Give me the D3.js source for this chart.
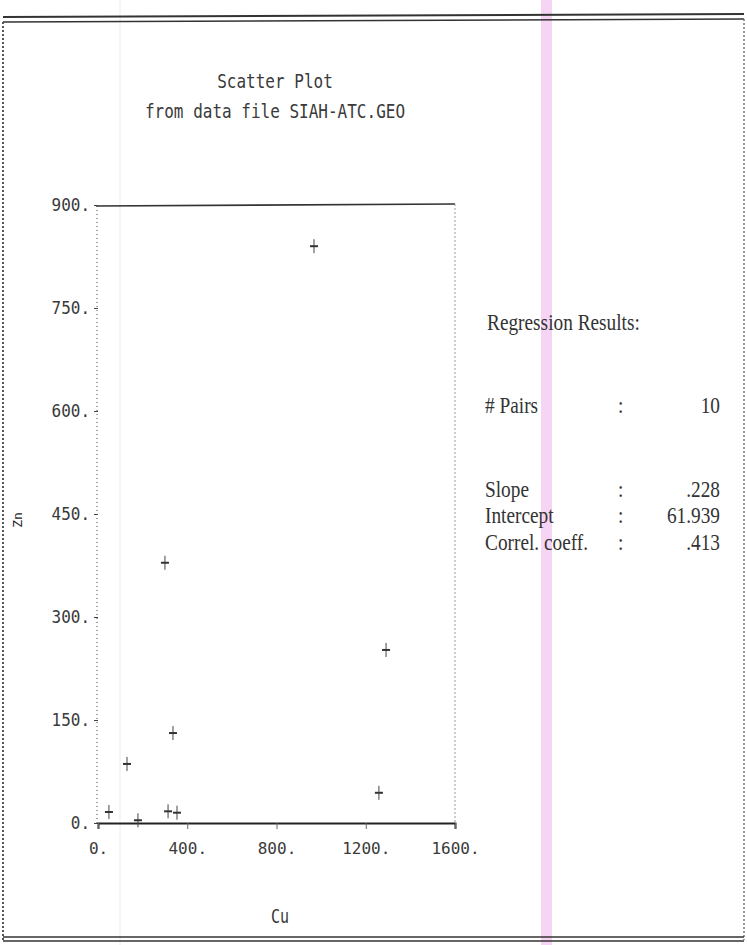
<!DOCTYPE html>
<html><head><meta charset="utf-8">
<script src="https://cdn.jsdelivr.net/npm/d3@7"></script>
<style>
html,body{margin:0;padding:0;background:#fff;}
svg{display:block;}
</style></head>
<body>
<script>
// ---- data ----
const cuValues   = [49, 130, 179, 314, 354, 336, 300, 968, 1259, 1291];
const yValues    = [16, 86, 4, 17, 15, 131, 379, 840, 44, 252];
const xTicks     = [0, 400, 800, 1200, 1600];
const yTicks     = [0, 150, 300, 450, 600, 750, 900];
const titleLines = ["Scatter Plot", "from data file SIAH-ATC.GEO"];
const xLabel = "Cu";
const yLabel = "Zn";
const regHeader = "Regression Results:";
const regNames  = ["# Pairs", "Slope", "Intercept", "Correl. coeff."];
const regValues = ["10", ".228", "61.939", ".413"];

const W = 747, H = 945;
const svg = d3.select("body").append("svg").attr("width", W).attr("height", H);
svg.append("rect").attr("width", W).attr("height", H).attr("fill", "#fff");

// scan artifacts
svg.append("rect").attr("x", 541).attr("y", 0).attr("width", 11).attr("height", H).attr("fill", "#f6d4f4");
svg.append("line").attr("x1", 120).attr("x2", 120).attr("y1", 0).attr("y2", H).attr("stroke", "#ececec");

// page border
const ink = "#333";
svg.append("line").attr("x1", 3).attr("x2", 744).attr("y1", 17).attr("y2", 14).attr("stroke", ink).attr("stroke-width", 2);
svg.append("line").attr("x1", 3).attr("x2", 744).attr("y1", 22).attr("y2", 19).attr("stroke", ink).attr("stroke-width", 1.5);
svg.append("line").attr("x1", 3).attr("x2", 3).attr("y1", 22).attr("y2", 940).attr("stroke", "#555").attr("stroke-width", 2).attr("stroke-dasharray", "2,2");
svg.append("line").attr("x1", 744).attr("x2", 744).attr("y1", 19).attr("y2", 940).attr("stroke", "#777").attr("stroke-width", 1.5).attr("stroke-dasharray", "2,2");
svg.append("line").attr("x1", 3).attr("x2", 744).attr("y1", 937).attr("y2", 937).attr("stroke", ink).attr("stroke-width", 1.5);
svg.append("line").attr("x1", 3).attr("x2", 744).attr("y1", 941).attr("y2", 941).attr("stroke", ink).attr("stroke-width", 1.5);

const mono = "'DejaVu Sans Mono', 'Liberation Mono', monospace";
function txt(x, y, s, o = {}) {
  return svg.append("text")
    .attr("transform", `translate(${x},${y}) scale(${o.sx || 1},${o.sy || 1})` + (o.rot ? ` rotate(${o.rot})` : ""))
    .attr("text-anchor", o.anchor || "start")
    .attr("font-family", o.font || mono)
    .attr("font-size", o.size || 15)
    .attr("fill", o.fill || "#3a3a3a")
    .text(s);
}

// title
titleLines.forEach((t, i) => txt(275, 88 + i * 30, t, {anchor: "middle", size: 16, sy: 1.25}));

// scales
const x = d3.scaleLinear().domain([0, 1600]).range([98, 455]);
const y = d3.scaleLinear().domain([0, 900]).range([823, 205]);

// frame
svg.append("line").attr("x1", 96).attr("x2", 455).attr("y1", 206).attr("y2", 204).attr("stroke", "#333").attr("stroke-width", 1.6);
svg.append("line").attr("x1", 455).attr("x2", 455).attr("y1", 204).attr("y2", 823).attr("stroke", "#999").attr("stroke-width", 1).attr("stroke-dasharray", "2,2");
svg.append("line").attr("x1", 97).attr("x2", 97).attr("y1", 206).attr("y2", 823).attr("stroke", "#666").attr("stroke-width", 1.2).attr("stroke-dasharray", "1,3");

// y axis
const gy = svg.append("g").attr("transform", "translate(98,0)")
  .call(d3.axisLeft(y).tickValues(yTicks).tickSize(4).tickPadding(4).tickFormat(d => d + "."));
gy.select(".domain").remove();
gy.selectAll("line").attr("stroke", "#444");
gy.selectAll("text").attr("font-family", mono).attr("font-size", 16).attr("fill", "#3a3a3a")
  .attr("transform", "scale(1,1.12)");

// x axis
const gx = svg.append("g").attr("transform", "translate(0,823)")
  .call(d3.axisBottom(x).tickValues(xTicks).tickSize(6).tickPadding(14).tickFormat(d => d + "."));
gx.select(".domain").attr("stroke", "#222").attr("stroke-width", 2);
gx.selectAll("line").attr("stroke", "#666");
gx.selectAll("text").attr("font-family", mono).attr("font-size", 16).attr("fill", "#3a3a3a");

// axis titles
txt(280, 923, xLabel, {anchor: "middle", size: 15, sy: 1.25});
txt(22, 520, yLabel, {anchor: "middle", size: 13, rot: -90, fill: "#222"});

// points as plus marks
const pts = cuValues.map((c, i) => ({c, v: yValues[i]}));
const gp = svg.append("g");
gp.selectAll("line.v").data(pts).join("line").attr("class", "v")
  .attr("x1", d => x(d.c)).attr("x2", d => x(d.c))
  .attr("y1", d => y(d.v) - 7).attr("y2", d => y(d.v) + 7)
  .attr("stroke", "#444").attr("stroke-width", 1);
gp.selectAll("line.h").data(pts).join("line").attr("class", "h")
  .attr("x1", d => x(d.c) - 4).attr("x2", d => x(d.c) + 4)
  .attr("y1", d => y(d.v)).attr("y2", d => y(d.v))
  .attr("stroke", "#333").attr("stroke-width", 2);

// regression block
const serif = "'Liberation Serif', 'DejaVu Serif', serif";
const rs = {size: 21, sx: 0.92, sy: 1.1, font: serif, fill: "#333"};
txt(487, 330, regHeader, rs);
const rowY = [413, 497, 523, 550];
regNames.forEach((n, i) => {
  txt(485, rowY[i], n, rs);
  txt(618, rowY[i], ":", rs);
  txt(720, rowY[i], regValues[i], Object.assign({}, rs, {anchor: "end"}));
});
</script>
</body></html>
